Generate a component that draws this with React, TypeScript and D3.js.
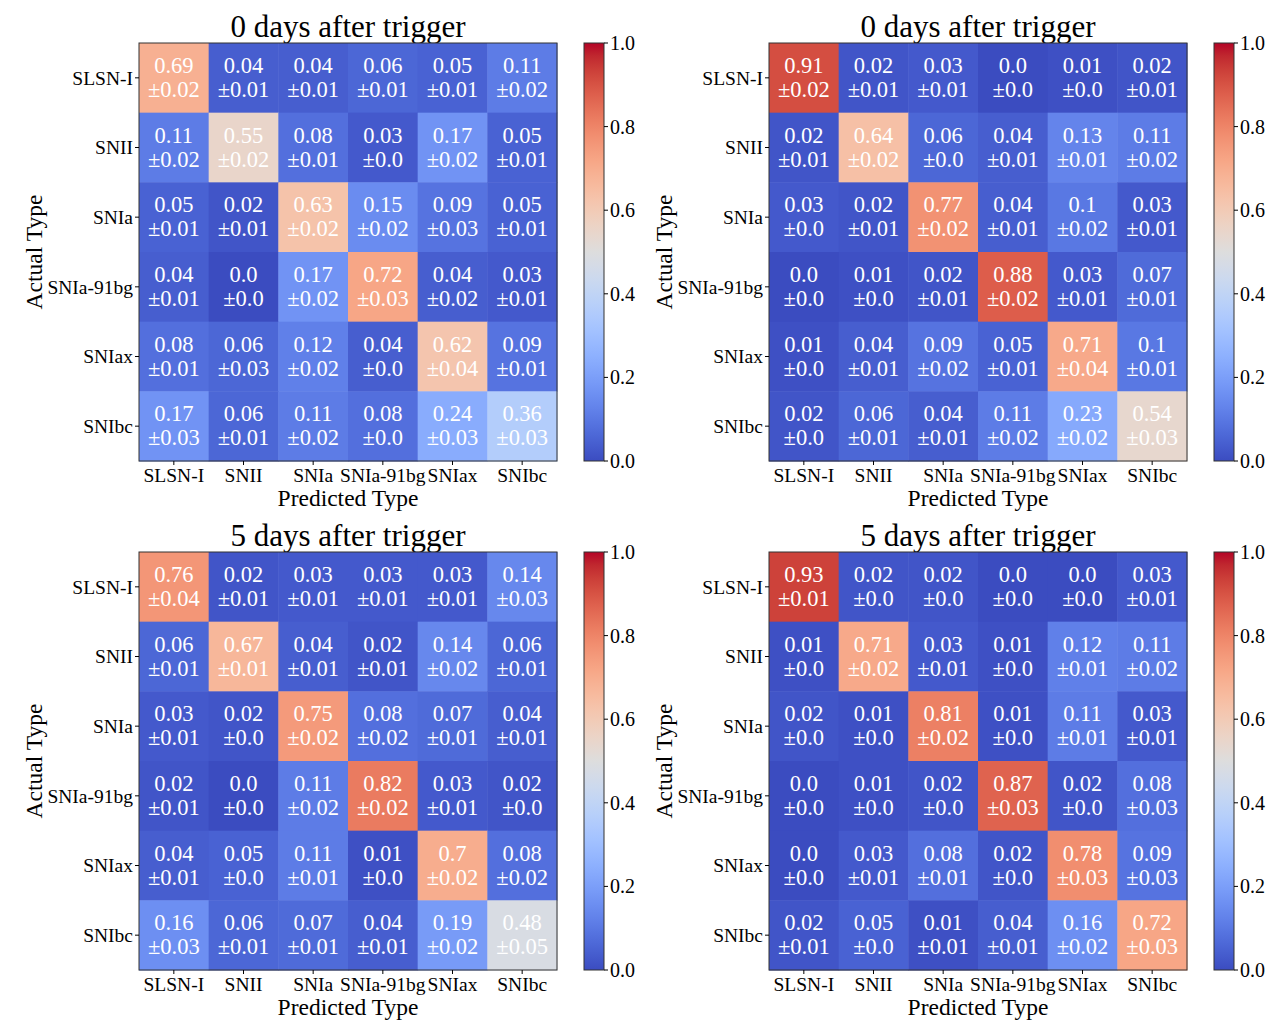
import * as d3 from "d3"

const classes = ["SLSN-I", "SNII", "SNIa", "SNIa-91bg", "SNIax", "SNIbc"]
const titles = ["0 days after trigger", "0 days after trigger", "5 days after trigger", "5 days after trigger"]
const colorTicks = [0, 0.2, 0.4, 0.6, 0.8, 1.0]

// mean values, rows = actual, cols = predicted
const meanTL = [
  [0.69, 0.04, 0.04, 0.06, 0.05, 0.11],
  [0.11, 0.55, 0.08, 0.03, 0.17, 0.05],
  [0.05, 0.02, 0.63, 0.15, 0.09, 0.05],
  [0.04, 0.0, 0.17, 0.72, 0.04, 0.03],
  [0.08, 0.06, 0.12, 0.04, 0.62, 0.09],
  [0.17, 0.06, 0.11, 0.08, 0.24, 0.36],
]
const errTL = [
  [0.02, 0.01, 0.01, 0.01, 0.01, 0.02],
  [0.02, 0.02, 0.01, 0.0, 0.02, 0.01],
  [0.01, 0.01, 0.02, 0.02, 0.03, 0.01],
  [0.01, 0.0, 0.02, 0.03, 0.02, 0.01],
  [0.01, 0.03, 0.02, 0.0, 0.04, 0.01],
  [0.03, 0.01, 0.02, 0.0, 0.03, 0.03],
]
const meanTR = [
  [0.91, 0.02, 0.03, 0.0, 0.01, 0.02],
  [0.02, 0.64, 0.06, 0.04, 0.13, 0.11],
  [0.03, 0.02, 0.77, 0.04, 0.1, 0.03],
  [0.0, 0.01, 0.02, 0.88, 0.03, 0.07],
  [0.01, 0.04, 0.09, 0.05, 0.71, 0.1],
  [0.02, 0.06, 0.04, 0.11, 0.23, 0.54],
]
const errTR = [
  [0.02, 0.01, 0.01, 0.0, 0.0, 0.01],
  [0.01, 0.02, 0.0, 0.01, 0.01, 0.02],
  [0.0, 0.01, 0.02, 0.01, 0.02, 0.01],
  [0.0, 0.0, 0.01, 0.02, 0.01, 0.01],
  [0.0, 0.01, 0.02, 0.01, 0.04, 0.01],
  [0.0, 0.01, 0.01, 0.02, 0.02, 0.03],
]
const meanBL = [
  [0.76, 0.02, 0.03, 0.03, 0.03, 0.14],
  [0.06, 0.67, 0.04, 0.02, 0.14, 0.06],
  [0.03, 0.02, 0.75, 0.08, 0.07, 0.04],
  [0.02, 0.0, 0.11, 0.82, 0.03, 0.02],
  [0.04, 0.05, 0.11, 0.01, 0.7, 0.08],
  [0.16, 0.06, 0.07, 0.04, 0.19, 0.48],
]
const errBL = [
  [0.04, 0.01, 0.01, 0.01, 0.01, 0.03],
  [0.01, 0.01, 0.01, 0.01, 0.02, 0.01],
  [0.01, 0.0, 0.02, 0.02, 0.01, 0.01],
  [0.01, 0.0, 0.02, 0.02, 0.01, 0.0],
  [0.01, 0.0, 0.01, 0.0, 0.02, 0.02],
  [0.03, 0.01, 0.01, 0.01, 0.02, 0.05],
]
const meanBR = [
  [0.93, 0.02, 0.02, 0.0, 0.0, 0.03],
  [0.01, 0.71, 0.03, 0.01, 0.12, 0.11],
  [0.02, 0.01, 0.81, 0.01, 0.11, 0.03],
  [0.0, 0.01, 0.02, 0.87, 0.02, 0.08],
  [0.0, 0.03, 0.08, 0.02, 0.78, 0.09],
  [0.02, 0.05, 0.01, 0.04, 0.16, 0.72],
]
const errBR = [
  [0.01, 0.0, 0.0, 0.0, 0.0, 0.01],
  [0.0, 0.02, 0.01, 0.0, 0.01, 0.02],
  [0.0, 0.0, 0.02, 0.0, 0.01, 0.01],
  [0.0, 0.0, 0.0, 0.03, 0.0, 0.03],
  [0.0, 0.01, 0.01, 0.0, 0.03, 0.03],
  [0.01, 0.0, 0.01, 0.01, 0.02, 0.03],
]

// matplotlib coolwarm (Moreland) control colours
const coolwarmStops = [
  "#3b4cc0", "#445acc", "#4d68d7", "#5775e1", "#6282ea", "#6c8ef1", "#779af7", "#82a5fb",
  "#8db0fe", "#98b9ff", "#a3c2ff", "#aec9fd", "#b8d0f9", "#c2d5f4", "#ccd9ee", "#d5dbe6",
  "#dddddd", "#e5d8d1", "#ecd3c5", "#f1ccb8", "#f5c4ac", "#f7bb9f", "#f7b193", "#f7a686",
  "#f49a7b", "#f18d6f", "#ec7f63", "#e57058", "#de604d", "#d55042", "#cb3e38", "#c0282f",
  "#b40426",
]
const coolwarm = d3.scaleLinear<string>()
  .domain(coolwarmStops.map((_, i) => i / (coolwarmStops.length - 1)))
  .range(coolwarmStops)
  .interpolate(d3.interpolateRgb)
  .clamp(true)

const panels = [
  { mean: meanTL, err: errTL, left: 139, top: 43, title: titles[0] },
  { mean: meanTR, err: errTR, left: 769, top: 43, title: titles[1] },
  { mean: meanBL, err: errBL, left: 139, top: 552, title: titles[2] },
  { mean: meanBR, err: errBR, left: 769, top: 552, title: titles[3] },
]

const SIZE = 418
const FONT = "'Liberation Serif', 'DejaVu Serif', serif"

// python-like str() of a rounded float: 0 -> "0.0", 0.1 -> "0.1"
const fmt = (v: number) => (Number.isInteger(v) ? v.toFixed(1) : String(v))

function Panel({ p, id }: { p: typeof panels[number]; id: number }) {
  const x = d3.scaleBand<string>().domain(classes).range([0, SIZE])
  const y = d3.scaleBand<string>().domain(classes).range([0, SIZE])
  const cb = d3.scaleLinear().domain([0, 1]).range([SIZE, 0])
  const bw = x.bandwidth()
  const cbX = 445
  const cbW = 20
  return (
    <g transform={`translate(${p.left},${p.top})`} fontFamily={FONT}>
      <text x={SIZE / 2} y={-6} textAnchor="middle" fontSize={31} fill="#000">{p.title}</text>
      {p.mean.map((row, i) =>
        row.map((v, j) => (
          <g key={`${i}-${j}`}>
            <rect x={x(classes[j])} y={y(classes[i])} width={bw + 0.5} height={bw + 0.5} fill={coolwarm(v)} />
            <text x={x(classes[j])! + bw / 2} y={y(classes[i])! + bw / 2 - 5} textAnchor="middle" fontSize={22.5} fill="#fff">{fmt(v)}</text>
            <text x={x(classes[j])! + bw / 2} y={y(classes[i])! + bw / 2 + 19} textAnchor="middle" fontSize={22.5} fill="#fff">{"±" + fmt(p.err[i][j])}</text>
          </g>
        ))
      )}
      <rect x={0} y={0} width={SIZE} height={SIZE} fill="none" stroke="#333" strokeWidth={1} />
      {classes.map(c => (
        <g key={"y" + c}>
          <line x1={-4} x2={0} y1={y(c)! + bw / 2} y2={y(c)! + bw / 2} stroke="#000" />
          <text x={-6} y={y(c)! + bw / 2} dy="0.35em" textAnchor="end" fontSize={19.5}>{c}</text>
        </g>
      ))}
      {classes.map(c => (
        <g key={"x" + c}>
          <line y1={SIZE} y2={SIZE + 4} x1={x(c)! + bw / 2} x2={x(c)! + bw / 2} stroke="#000" />
          <text x={x(c)! + bw / 2} y={SIZE + 21} textAnchor="middle" fontSize={19.5}>{c}</text>
        </g>
      ))}
      <text x={SIZE / 2} y={SIZE + 45} textAnchor="middle" fontSize={23.5}>Predicted Type</text>
      <text transform={`translate(${-97},${SIZE / 2}) rotate(-90)`} textAnchor="middle" fontSize={23.5}>Actual Type</text>
      <defs>
        <linearGradient id={`cb${id}`} x1="0" y1="1" x2="0" y2="0">
          {coolwarmStops.map((c, k) => (
            <stop key={k} offset={k / (coolwarmStops.length - 1)} stopColor={c} />
          ))}
        </linearGradient>
      </defs>
      <rect x={cbX} y={0} width={cbW} height={SIZE} fill={`url(#cb${id})`} stroke="#333" strokeWidth={1} />
      {colorTicks.map(t => (
        <g key={"c" + t}>
          <line x1={cbX + cbW} x2={cbX + cbW + 4} y1={cb(t)} y2={cb(t)} stroke="#000" />
          <text x={cbX + cbW + 6} y={cb(t)} dy="0.35em" fontSize={20}>{t.toFixed(1)}</text>
        </g>
      ))}
    </g>
  )
}

export default function App() {
  return (
    <svg width={1284} height={1024} style={{ position: "absolute", left: 0, top: 0 }}>
      <rect width={1284} height={1024} fill="#fff" />
      {panels.map((p, i) => <Panel key={i} p={p} id={i} />)}
    </svg>
  )
}
